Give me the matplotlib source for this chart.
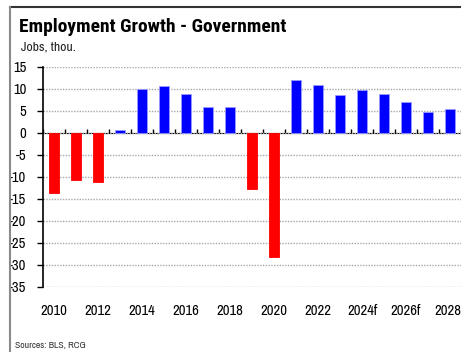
"""Government employment growth, annual change in jobs (thou.), with forecasts."""
import matplotlib
matplotlib.use("Agg")
import matplotlib.pyplot as plt
from matplotlib.lines import Line2D

plt.rcParams["font.family"] = ["Archivo Narrow", "Liberation Sans", "DejaVu Sans"]

years = ["2010", "2011", "2012", "2013", "2014", "2015", "2016", "2017", "2018", "2019",
         "2020", "2021", "2022", "2023", "2024f", "2025f", "2026f", "2027f", "2028f"]
jobs = [-13.7, -10.7, -11.2, 0.6, 10.0, 10.6, 8.8, 5.9, 5.9, -12.8,
        -28.1, 12.0, 11.0, 8.6, 9.8, 8.8, 7.1, 4.7, 5.5]
y_ticks = [15, 10, 5, 0, -5, -10, -15, -20, -25, -30, -35]

W, H = 461, 352
fig = plt.figure(figsize=(W / 100, H / 100), dpi=100)
ax = fig.add_axes([43 / W, 1 - 287 / H, 1 - 43 / W, (287 - 67) / H])

x = list(range(len(years)))
colors = ["#0000ff" if v >= 0 else "#ff0000" for v in jobs]
edges = ["#9a9aff" if v >= 0 else "#ff0000" for v in jobs]
ax.bar(x, jobs, width=0.49, color=colors, edgecolor=edges, linewidth=0.6, zorder=3)

ymin, ymax = -35, 15
ax.set_ylim(ymin, ymax)
ax.set_xlim(-0.5, len(years) - 0.5)
ax.set_yticks(y_ticks)
ax.set_yticklabels([str(v) for v in y_ticks], fontsize=10.5)
ax.yaxis.grid(True, color="#a8a8a8", linestyle=(0, (1, 1)), linewidth=1.0, zorder=0)
ax.tick_params(axis="y", direction="out", length=4, width=1, pad=8, color="black")

# year labels along the bottom, every other year
ax.set_xticks(x[::2])
ax.set_xticklabels(years[::2], fontsize=10.5)
ax.tick_params(axis="x", length=0, pad=12)

for side in ("top", "right", "bottom"):
    ax.spines[side].set_visible(False)
ax.spines["left"].set_linewidth(1.2)
ax.spines["left"].set_color("black")

# zero line with category boundary ticks
zero = ax.secondary_xaxis((0 - ymin) / (ymax - ymin))
zero.set_xticks([i - 0.5 for i in range(len(years) + 1)])
zero.set_xticklabels([])
zero.tick_params(direction="out", length=3, width=1, color="black")
zero.spines["bottom"].set_linewidth(1.2)
zero.spines["bottom"].set_color("black")

fig.text(19 / W, 1 - 32 / H, "Employment Growth - Government", fontsize=14,
         fontweight="bold", family=["Roboto Condensed", "Liberation Sans"],
         ha="left", va="baseline")
fig.text(21 / W, 1 - 50 / H, "Jobs, thou.", fontsize=9.8, ha="left", va="baseline", color="#222222")
fig.text(15 / W, 1 - 348 / H, "Sources: BLS, RCG", fontsize=7, ha="left", va="baseline", color="#333333")

# panel border (top and left edges)
fig.add_artist(Line2D([10 / W, 1], [1 - 7 / H, 1 - 7 / H], color="#333333", linewidth=1.5,
                      transform=fig.transFigure))
fig.add_artist(Line2D([10 / W, 10 / W], [0, 1 - 7 / H], color="#8a8a8a", linewidth=1.5,
                      transform=fig.transFigure))

fig.savefig("out.png", dpi=100)
